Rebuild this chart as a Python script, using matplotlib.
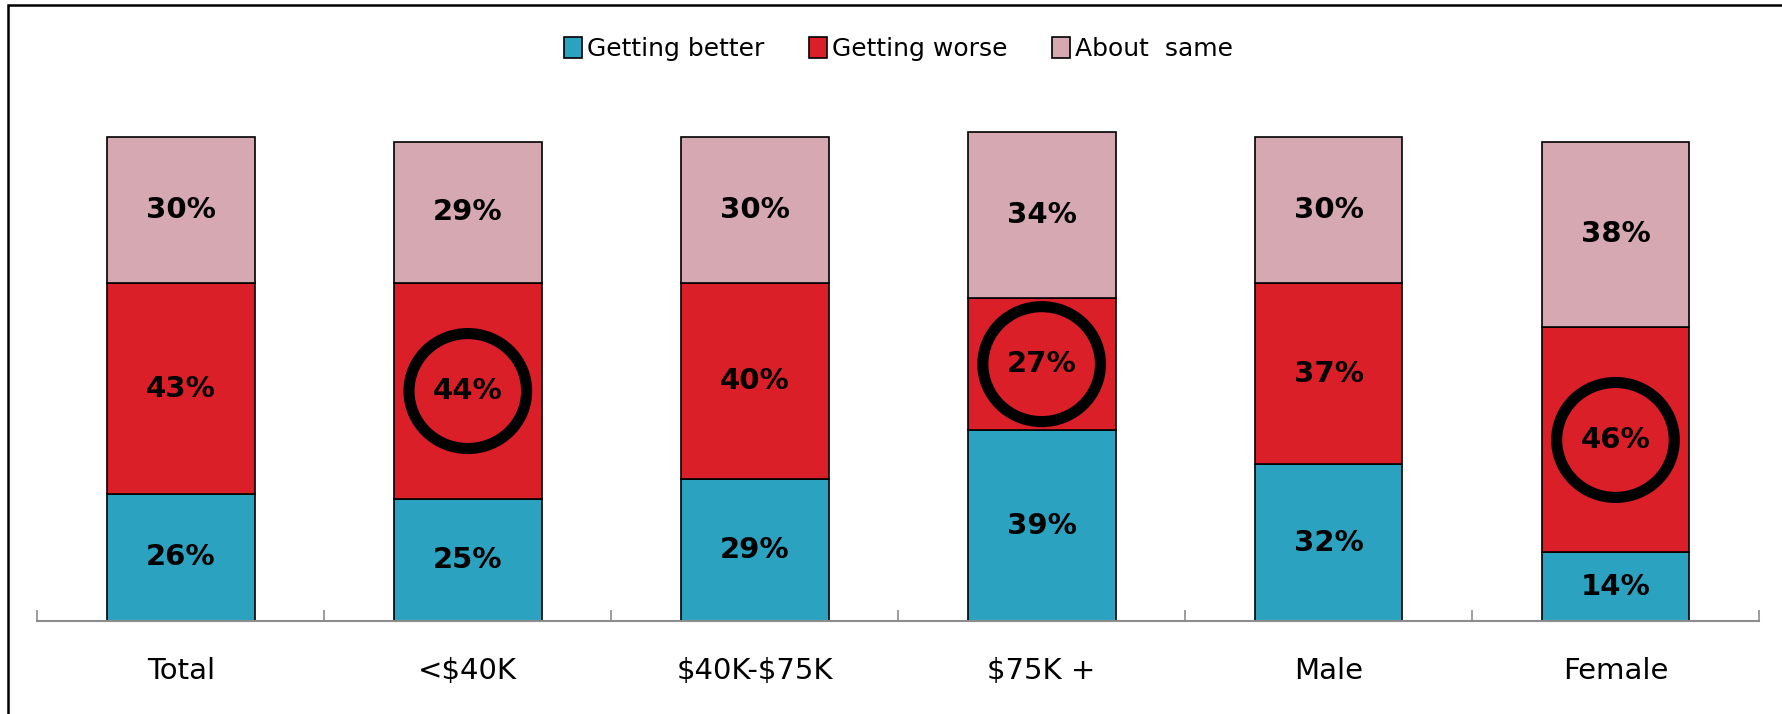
import numpy as np
import matplotlib
matplotlib.use("Agg")
import matplotlib.pyplot as plt
from matplotlib.patches import Ellipse, Rectangle

# data
categories = ["Total", "<$40K", "$40K-$75K", "$75K +", "Male", "Female"]
better = [26, 25, 29, 39, 32, 14]
worse = [43, 44, 40, 27, 37, 46]
same = [30, 29, 30, 34, 30, 38]
circled = [1, 3, 5]  # bars whose "Getting worse" value is ringed

series_names = ["Getting better", "Getting worse", "About  same"]
colors = ["#2BA3C0", "#DA1F28", "#D6A8B1"]

plt.rcParams['font.family'] = ['DejaVu Sans']
plt.rcParams['text.parse_math'] = False

fig = plt.figure(figsize=(17.83, 7.14), dpi=100)
ax = fig.add_axes([0.021, 0.1303, 0.9655, 0.7297])

x = np.arange(len(categories))
w = 0.515
bottoms = np.zeros(len(categories))
for vals, col, name in zip([better, worse, same], colors, series_names):
    vals = np.array(vals)
    ax.bar(x, vals, w, bottom=bottoms, color=col, edgecolor="black",
           linewidth=1.2, label=name, zorder=2)
    for xi, b, v in zip(x, bottoms, vals):
        ax.text(xi, b + v / 2, f"{v}%", ha="center", va="center",
                fontsize=21, fontweight="bold", color="black", zorder=4)
    bottoms = bottoms + vals

# rings around highlighted values
for i in circled:
    yc = better[i] + worse[i] / 2
    ax.add_patch(Ellipse((x[i], yc), 0.41, 23.5, fill=False,
                         edgecolor="black", linewidth=8, zorder=3))

ax.set_xlim(-0.5, len(categories) - 0.5)
ax.set_ylim(0, 106.5)
ax.set_yticks([])
for s in ["top", "right", "left"]:
    ax.spines[s].set_visible(False)
ax.spines["bottom"].set_color("#8c8c8c")
ax.spines["bottom"].set_linewidth(1.5)

ax.set_xticks(x)
ax.set_xticklabels(categories, fontsize=21)
ax.tick_params(axis="x", which="major", length=0, pad=26)
ax.set_xticks(np.arange(-0.5, len(categories)), minor=True)
ax.tick_params(axis="x", which="minor", direction="in", length=8,
               width=1.2, color="#8c8c8c")

handles, labels = ax.get_legend_handles_labels()
fig.legend(handles, labels, loc="center", bbox_to_anchor=(0.504, 0.931),
           ncol=3, frameon=False, fontsize=18, handlelength=0.7,
           handleheight=0.9, handletextpad=0.2, columnspacing=1.8)

# outer frame (left and top visible)
fig.patches.append(Rectangle((0.0045, -0.2), 1.2, 1.193, transform=fig.transFigure,
                             fill=False, edgecolor="black", linewidth=1.8))

fig.savefig("out.png", dpi=100)
